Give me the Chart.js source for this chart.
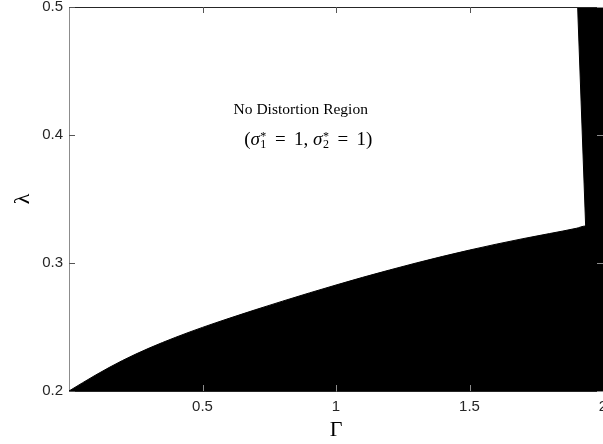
<!DOCTYPE html>
<html>
<head>
<meta charset="utf-8">
<script src="https://cdn.jsdelivr.net/npm/chart.js@4.4.1/dist/chart.umd.min.js"></script>
<style>
  html, body { margin: 0; padding: 0; background: #fff; }
  #chart { display: block; }
</style>
</head>
<body>
<canvas id="chart" width="603" height="444"></canvas>
<script>
// Lower boundary of the no-distortion region
const gammaEdge = [0, 0.1, 0.2, 0.3, 0.4, 0.5, 0.6, 0.7, 0.8, 0.9, 1.0, 1.1, 1.2, 1.3, 1.4, 1.5, 1.6, 1.7, 1.8, 1.9, 1.935, 2.0]
const lambdaEdge = [0.2, 0.2125, 0.2238, 0.2335, 0.242, 0.2497, 0.2568, 0.2636, 0.2702, 0.2766, 0.2828, 0.2888, 0.2945, 0.3, 0.3052, 0.3101, 0.3147, 0.319, 0.323, 0.3271, 0.3289, 0.3289]

// Steep right-hand boundary
const gammaBand = [1.905, 1.935, 2.0]
const lambdaBand = [0.5, 0.3289, 0.3289]

// Ticks
const gammaTicks = [0.5, 1, 1.5, 2]
const lambdaTicks = [0.2, 0.3, 0.4, 0.5]

// Region label
const regionTitle = 'No Distortion Region'
const regionAnchor = { x: 0.868, y: 0.4164 }
const sigmaAnchor = { x: 0.896, y: 0.3922 }
const sigmaWidth = 0.48 // in Γ units

const serif = '"Liberation Serif", "Times New Roman", serif'
const sans = '"Liberation Sans", Arial, Helvetica, sans-serif'
const axisColor = '#262626'

const toPoints = (xs, ys) => xs.map((x, i) => ({ x, y: ys[i] }))

// Draw "(σ1* = 1, σ2* = 1)" with sub/superscripts, stretched to a width
const drawSigmaLine = (ctx, cx, baseline, target) => {
  const big = `19px ${serif}`
  const ital = `italic 19px ${serif}`
  const small = `12px ${serif}`
  const pieces = [
    { t: '(', f: big },
    { t: 'σ', f: ital },
    { sub: '1', sup: '*' },
    { gap: 1 },
    { t: '=', f: big },
    { gap: 1 },
    { t: '1,', f: big },
    { gap: 0.6 },
    { t: 'σ', f: ital },
    { sub: '2', sup: '*' },
    { gap: 1 },
    { t: '=', f: big },
    { gap: 1 },
    { t: '1)', f: big }
  ]
  const widths = pieces.map(p => {
    if (p.gap) return 0
    if (p.t) {
      ctx.font = p.f
      return ctx.measureText(p.t).width
    }
    ctx.font = small
    return Math.max(ctx.measureText(p.sub).width, ctx.measureText(p.sup).width) + 1
  })
  const natural = widths.reduce((a, b) => a + b, 0)
  const gapSum = pieces.reduce((a, p) => a + (p.gap || 0), 0)
  const unit = Math.max(target - natural, 0) / gapSum
  let x = cx - Math.max(target, natural) / 2
  ctx.textAlign = 'left'
  ctx.textBaseline = 'alphabetic'
  pieces.forEach((p, i) => {
    if (p.gap) {
      x += p.gap * unit
      return
    }
    if (p.t) {
      ctx.font = p.f
      ctx.fillText(p.t, x, baseline)
    } else {
      ctx.font = small
      ctx.fillText(p.sub, x + 0.5, baseline + 3)
      ctx.fillText(p.sup, x + 0.5, baseline - 5)
    }
    x += widths[i]
  })
}

// Frame, inward ticks and region label
const decorations = {
  id: 'decorations',
  afterDatasetsDraw (chart) {
    const { ctx, chartArea: a, scales: { x, y } } = chart
    ctx.save()
    ctx.lineWidth = 1

    // top frame line
    ctx.strokeStyle = axisColor
    ctx.beginPath()
    ctx.moveTo(a.left, Math.round(a.top) + 0.5)
    ctx.lineTo(a.right, Math.round(a.top) + 0.5)
    ctx.stroke()

    // inward ticks
    const len = 6
    gammaTicks.forEach(v => {
      const px = Math.round(x.getPixelForValue(v)) + 0.5
      ctx.strokeStyle = '#8c8c8c'
      ctx.beginPath()
      ctx.moveTo(px, a.bottom)
      ctx.lineTo(px, a.bottom - len)
      ctx.stroke()
      ctx.strokeStyle = '#555'
      ctx.beginPath()
      ctx.moveTo(px, a.top)
      ctx.lineTo(px, a.top + len)
      ctx.stroke()
    })
    lambdaTicks.forEach(v => {
      const py = Math.round(y.getPixelForValue(v)) + 0.5
      ctx.strokeStyle = '#555'
      ctx.beginPath()
      ctx.moveTo(a.left, py)
      ctx.lineTo(a.left + len, py)
      ctx.stroke()
      ctx.strokeStyle = '#8c8c8c'
      ctx.beginPath()
      ctx.moveTo(a.right, py)
      ctx.lineTo(a.right - len, py)
      ctx.stroke()
    })

    // region label
    ctx.fillStyle = '#000'
    ctx.font = `15.5px ${serif}`
    ctx.textAlign = 'center'
    ctx.textBaseline = 'alphabetic'
    ctx.fillText(regionTitle, x.getPixelForValue(regionAnchor.x), y.getPixelForValue(regionAnchor.y))
    const target = x.getPixelForValue(sigmaWidth) - x.getPixelForValue(0)
    drawSigmaLine(ctx, x.getPixelForValue(sigmaAnchor.x), y.getPixelForValue(sigmaAnchor.y), target)
    ctx.restore()
  }
}

const renderChart = () => {
  const ctx = document.querySelector('#chart').getContext('2d')
  return new Chart(ctx, {
    type: 'scatter',
    data: {
      datasets: [
        // distortion region below the curve
        {
          data: toPoints(gammaEdge, lambdaEdge),
          showLine: true,
          fill: 'start',
          backgroundColor: '#000',
          borderColor: '#000',
          borderWidth: 1,
          pointRadius: 0,
          cubicInterpolationMode: 'monotone'
        },
        // distortion region on the right
        {
          data: toPoints(gammaBand, lambdaBand),
          showLine: true,
          fill: 'end',
          backgroundColor: '#000',
          borderColor: '#000',
          borderWidth: 1,
          pointRadius: 0,
          tension: 0
        }
      ]
    },
    plugins: [decorations],
    options: {
      responsive: false,
      animation: false,
      layout: { padding: { top: 7, right: 0, left: 0, bottom: 0 } },
      plugins: {
        legend: { display: false },
        tooltip: { enabled: false }
      },
      scales: {
        x: {
          type: 'linear',
          min: 0,
          max: 2,
          afterBuildTicks: s => { s.ticks = gammaTicks.map(value => ({ value })) },
          afterFit: s => {
            s.height = 53
            s.paddingLeft = 0
            s.paddingRight = 0
          },
          grid: { display: false, drawTicks: false },
          border: { display: true, color: axisColor, width: 1 },
          ticks: {
            padding: 7,
            color: axisColor,
            maxRotation: 0,
            autoSkip: false,
            font: { family: sans, size: 15 },
            callback: v => String(v)
          },
          title: {
            display: true,
            text: 'Γ',
            color: '#000',
            font: { family: serif, size: 22 },
            padding: { top: 0, bottom: 1 }
          }
        },
        y: {
          type: 'linear',
          min: 0.2,
          max: 0.5,
          afterBuildTicks: s => { s.ticks = lambdaTicks.map(value => ({ value })) },
          afterFit: s => {
            s.width = 69
            s.paddingTop = 0
            s.paddingBottom = 0
          },
          grid: { display: false, drawTicks: false },
          border: { display: true, color: '#8c8c8c', width: 1 },
          ticks: {
            padding: 6,
            color: axisColor,
            autoSkip: false,
            font: { family: sans, size: 15 },
            callback: v => String(v)
          },
          title: {
            display: true,
            text: 'λ',
            color: '#000',
            font: { family: serif, size: 22 },
            padding: { top: 10, bottom: 0 }
          }
        }
      }
    }
  })
}

renderChart()
</script>
</body>
</html>
